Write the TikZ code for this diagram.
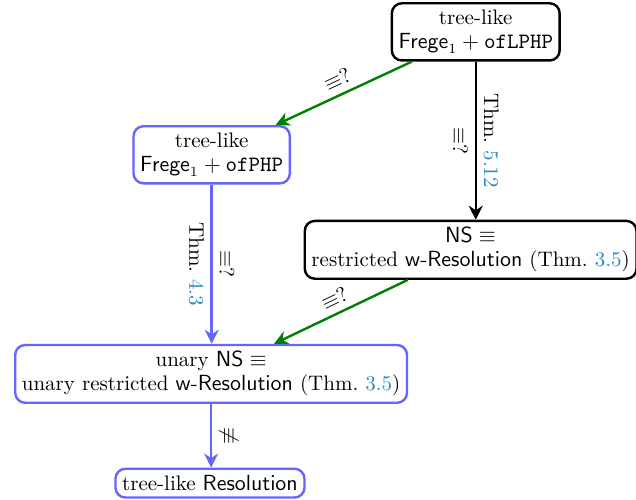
\documentclass[tikz,border=0pt]{standalone}
\usepackage{amsmath,amssymb}
\usepackage{xcolor}
\usepackage{tikz}
\usetikzlibrary{arrows.meta}
\definecolor{lav}{HTML}{6666FF}
\definecolor{grn}{HTML}{008000}
\definecolor{lnk}{HTML}{2B8CBE}
\tikzset{
  every node/.style={font=\fontsize{10.5pt}{12pt}\selectfont},
  sys/.style={draw,very thick,rounded corners=5pt,align=center,fill=white},
  imp/.style={very thick,-{Stealth[length=7pt,width=7pt]}},
  lab/.style={sloped,midway}
}

\begin{document}
\begin{tikzpicture}
\useasboundingbox (0,0) rectangle (11.176,-8.786);
\node[sys] (top) at (8.36,-0.56) {tree-like\\ $\mathsf{Frege}_1+\mathtt{ofLPHP}$};
\node[sys,draw=lav] (frege) at (3.72,-2.72) {tree-like\\ $\mathsf{Frege}_1+\mathtt{ofPHP}$};
\node[sys] (ns) at (8.27,-4.39) {$\mathsf{NS}\equiv$\\ restricted $\mathsf{w}$-$\mathsf{Resolution}$ (Thm.~\textcolor{lnk}{3.5})};
\node[sys,draw=lav] (unary) at (3.71,-6.57) {unary $\mathsf{NS}\equiv$\\ unary restricted $\mathsf{w}$-$\mathsf{Resolution}$ (Thm.~\textcolor{lnk}{3.5})};
\node[sys,draw=lav] (res) at (3.69,-8.49) {tree-like $\mathsf{Resolution}$};
\draw[imp,grn] (top) -- (frege) node[lab,above,text=black] {$\equiv$?};
\draw[imp] (top.south) -- (top.south |- ns.north) node[lab,above] {Thm.~\textcolor{lnk}{5.12}} node[lab,below] {$\equiv$?};
\draw[imp,lav] (frege.south) -- (frege.south |- unary.north) node[lab,below,text=black] {Thm.~\textcolor{lnk}{4.3}} node[lab,above,text=black] {$\equiv$?};
\draw[imp,grn] (ns) -- (unary) node[lab,above,text=black] {$\equiv$?};
\draw[imp,lav] (unary.south) -- (unary.south |- res.north) node[lab,above,text=black] {$\not\equiv$};
\end{tikzpicture}
\end{document}
